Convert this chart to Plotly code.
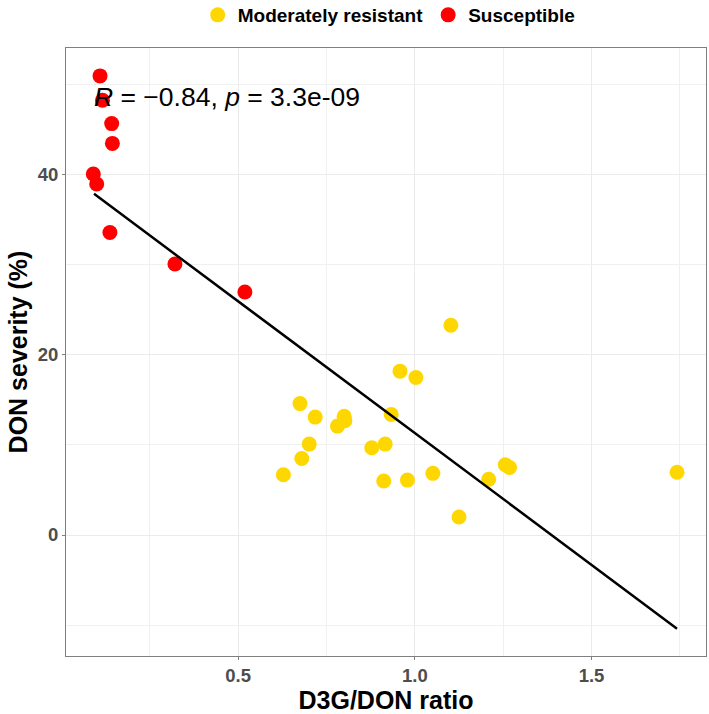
import plotly.graph_objects as go

YELLOW = "#FFD700"
RED = "#FF0000"

# Susceptible (red)
sus_x = [0.109, 0.116, 0.142, 0.144, 0.090, 0.0996, 0.137, 0.321, 0.519]
sus_y = [51.0, 48.3, 45.7, 43.5, 40.1, 39.0, 33.6, 30.1, 27.0]

# Moderately resistant (yellow)
mod_x = [1.102, 0.958, 1.003, 0.675, 0.718, 0.800, 0.802, 0.781, 0.933, 0.701, 0.680,
         0.628, 0.878, 0.916, 0.912, 0.979, 1.051, 1.209, 1.256, 1.268, 1.125, 1.742]
mod_y = [23.3, 18.2, 17.5, 14.6, 13.1, 13.2, 12.7, 12.1, 13.4, 10.1, 8.5,
         6.7, 9.7, 10.1, 6.0, 6.1, 6.85, 6.2, 7.8, 7.5, 2.0, 6.97]

# linear fit line (ends)
fit_x = [0.092, 1.742]
fit_y = [37.9, -10.4]

x_ticks = [0.5, 1.0, 1.5]
y_ticks = [0, 20, 40]

FONT = "Liberation Sans, Arial"

fig = go.Figure()
fig.add_trace(go.Scatter(
    x=mod_x, y=mod_y, mode="markers", name="Moderately resistant",
    marker=dict(color=YELLOW, size=15, line=dict(width=0)),
))
fig.add_trace(go.Scatter(
    x=sus_x, y=sus_y, mode="markers", name="Susceptible",
    marker=dict(color=RED, size=15, line=dict(width=0)),
))
fig.add_trace(go.Scatter(
    x=fit_x, y=fit_y, mode="lines", showlegend=False,
    line=dict(color="black", width=2.5),
))

fig.add_annotation(
    x=0.085, y=48.7, xref="x", yref="y", xanchor="left", yanchor="middle",
    text="<i>R</i> = \u22120.84, <i>p</i> = 3.3e-09", showarrow=False,
    font=dict(family=FONT, size=26.5, color="black"),
)

axis_common = dict(
    showline=True, mirror=True, linecolor="#7f7f7f", linewidth=1,
    showgrid=True, gridcolor="#EBEBEB", gridwidth=1,
    zeroline=False, ticks="outside", ticklen=3, tickcolor="#7f7f7f",
    tickfont=dict(family=FONT, size=18.5, color="#4D4D4D", weight="bold"),
    automargin=False,
)

fig.update_xaxes(
    range=[0.0127, 1.824], tickvals=x_ticks, ticktext=["0.5", "1.0", "1.5"],
    minor=dict(showgrid=True, gridcolor="#F0F0F0", tickvals=[0.25, 0.75, 1.25, 1.75], ticks=""),
    title=dict(text="D3G/DON ratio", standoff=0,
               font=dict(family=FONT, size=25, color="black", weight="bold")),
    **axis_common,
)
fig.update_yaxes(
    range=[-13.44, 54.1], tickvals=y_ticks,
    minor=dict(showgrid=True, gridcolor="#F0F0F0", tickvals=[-10, 10, 30, 50], ticks=""),
    title=dict(text="DON severity (%)", standoff=2,
               font=dict(family=FONT, size=25, color="black", weight="bold")),
    **axis_common,
)

fig.update_layout(
    width=709, height=714,
    template="plotly_white",
    paper_bgcolor="white", plot_bgcolor="white",
    margin=dict(l=66, r=3, t=48, b=58, autoexpand=False),
    legend=dict(
        orientation="h", x=0.505, xanchor="center", y=0.979, yanchor="middle",
        yref="container",
        font=dict(family=FONT, size=19, color="black", weight="bold"),
    ),
)

# page has a default 8px body margin; drop it so the figure fills the window
fig.write_html("out.html", config={"displayModeBar": False},
               post_script="document.body.style.margin='0';")
